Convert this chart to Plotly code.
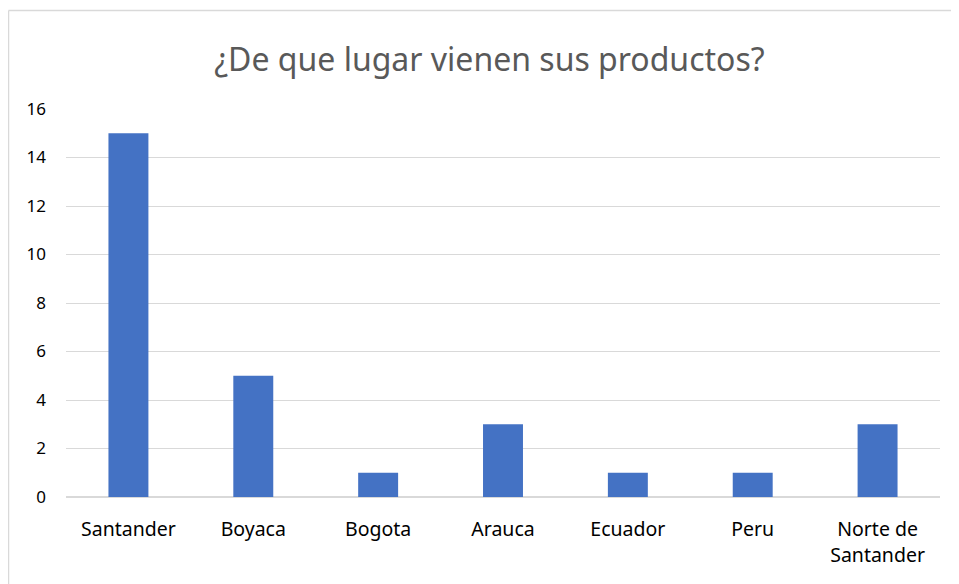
import plotly.graph_objects as go

categories = ["Santander", "Boyaca", "Bogota", "Arauca", "Ecuador", "Peru", "Norte de<br>Santander"]
values = [15, 5, 1, 3, 1, 1, 3]
y_ticks = [0, 2, 4, 6, 8, 10, 12, 14, 16]

FONT = "Noto Sans"

fig = go.Figure(go.Bar(
    x=categories, y=values,
    marker=dict(color="#4472C4", line=dict(width=0)),
))

PLOT_W = 959 - 58 - 27
PLOT_H = 584 - 101 - 95

fig.update_layout(
    width=959, height=584,
    margin=dict(l=58, r=27, t=101, b=95),
    paper_bgcolor="white", plot_bgcolor="white",
    bargap=0.68,
    showlegend=False,
    title=dict(text="¿De que lugar vienen sus productos?", x=0.502, xanchor="center",
               y=1 - 52 / 584, yanchor="middle",
               font=dict(family=FONT, size=32, color="#595959")),
    font=dict(family=FONT, size=17, color="#000000"),
    xaxis=dict(showgrid=False, showline=True, linecolor="#d9d9d9", linewidth=1,
               ticks="", ticklabelstandoff=15, tickfont=dict(size=19.5, color="#000000")),
    yaxis=dict(range=[0, 16], tickvals=y_ticks, showgrid=True, gridcolor="#d9d9d9",
               gridwidth=1, zeroline=True, zerolinecolor="#d9d9d9", showline=False,
               ticks="", ticklabelstandoff=19, tickfont=dict(size=17, color="#000000")),
    shapes=[
        dict(type="line", xref="paper", yref="paper", x0=-57.5 / PLOT_W, x1=1.2,
             y0=1 + 98.5 / PLOT_H, y1=1 + 98.5 / PLOT_H, line=dict(color="#d9d9d9", width=1.5)),
        dict(type="line", xref="paper", yref="paper", x0=-57.5 / PLOT_W, x1=-57.5 / PLOT_W,
             y0=1 + 98.5 / PLOT_H, y1=-0.5, line=dict(color="#d9d9d9", width=1.5)),
    ],
)

fig.write_html("out.html")
